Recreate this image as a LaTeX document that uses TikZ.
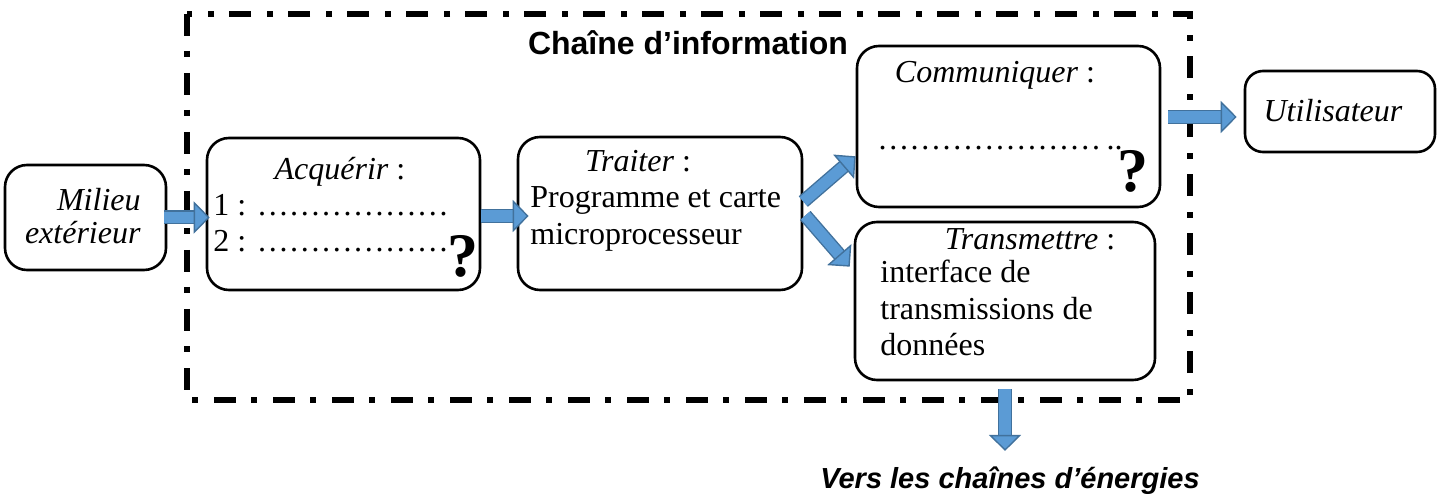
\documentclass[tikz,border=0pt]{standalone}
\usepackage{fontspec}
\setmainfont{Liberation Serif}
\setsansfont{Liberation Sans}
\usetikzlibrary{arrows.meta}
\definecolor{bleu}{HTML}{5B9BD5}
\definecolor{bleuF}{HTML}{41719C}
\begin{document}
\begin{tikzpicture}[x=0.5pt,y=-0.5pt,
	boite/.style={draw=black,line width=1.3pt,rounded corners=11pt,inner sep=0pt},
	txt/.style={font=\fontsize{16}{18}\selectfont,inner sep=0pt},
	qst/.style={font=\fontsize{31}{31}\selectfont\bfseries,inner sep=0pt},
	fleche/.style={draw=bleuF,line width=0.7pt,double=bleu,double distance=5.6pt,
		-{Triangle[width=16pt,length=8pt,line width=0.7pt,fill=bleu]}},
	cadre/.style={line width=2.7pt,dash pattern=on 11pt off 7.5pt on 3pt off 8pt}]
	\useasboundingbox (0,0) rectangle (1438,496);
	\draw[cadre] (187,14) rectangle (1190,400);
	\node[txt,font=\fontsize{16}{18}\selectfont\sffamily\bfseries,anchor=base] (titre) at (688,55) {Chaîne d’information};
	\node[boite,minimum width=80.5pt,minimum height=52.5pt] (milieu) at (85.5,217.5) {};
	\node[boite,minimum width=136.5pt,minimum height=76pt] (acq) at (343.5,214) {};
	\node[boite,minimum width=142pt,minimum height=76.5pt] (traiter) at (660,213.5) {};
	\node[boite,minimum width=151.5pt,minimum height=80.5pt] (comm) at (1008.5,126.5) {};
	\node[boite,minimum width=150pt,minimum height=79pt] (trans) at (1005,301) {};
	\node[boite,rounded corners=9pt,minimum width=95pt,minimum height=40.5pt] (util) at (1340,111.5) {};
	\node[txt,anchor=base east] (tmil1) at (141,211) {\textit{Milieu}};
	\node[txt,anchor=base east] (tmil2) at (141,244) {\textit{extérieur}};
	\node[txt,anchor=base] (tacq) at (340,180) {\textit{Acquérir} :};
	\node[txt,anchor=base west] (acq1) at (213,216) {1 : ………………};
	\node[txt,anchor=base west] (acq2) at (213,252) {2 : ………………};
	\node[qst,anchor=base] (qacq) at (463,277) {?};
	\node[txt,anchor=base] (ttrait) at (638,172) {\textit{Traiter} :};
	\node[txt,anchor=base west] (trait1) at (530,208) {Programme et carte};
	\node[txt,anchor=base west] (trait2) at (530,245) {microprocesseur};
	\node[txt,anchor=base] (tcomm) at (995,83) {\textit{Communiquer} :};
	\node[txt,anchor=base west] (comm1) at (877,150) {…………………\,..};
	\node[qst,anchor=base] (qcomm) at (1133,192) {?};
	\node[txt,anchor=base] (ttrans) at (1030,250) {\textit{Transmettre} :};
	\node[txt,anchor=base west] (trans1) at (880,283) {interface de};
	\node[txt,anchor=base west] (trans2) at (880,320) {transmissions de};
	\node[txt,anchor=base west] (trans3) at (880,355) {données};
	\node[txt,anchor=base] (tutil) at (1333,122) {\textit{Utilisateur}};
	\node[txt,font=\fontsize{14.5}{16}\selectfont\sffamily\bfseries\itshape,anchor=base] (vers) at (1010,488) {Vers les chaînes d’énergies};
	\coordinate (c1) at (1168,117);
	\draw[fleche] ([xshift=-1.5pt]milieu.east) -- ([xshift=2pt]milieu.east -| acq.west);
	\draw[fleche] ([yshift=-1pt]acq.east) -- ([xshift=6pt,yshift=-1pt]acq.east -| traiter.west);
	\draw[fleche] ([yshift=6pt]traiter.east) -- ([yshift=26pt]comm.south west);
	\draw[fleche] ([xshift=1pt,yshift=-1pt]traiter.east) -- ([xshift=-2pt,yshift=-23pt]trans.north west);
	\draw[fleche] (c1) -- ([xshift=-3.5pt]c1 -| util.west);
	\draw[fleche,shorten >=7.5pt] ([yshift=-4pt]trans.south) -- (vers.north -| trans.south);
\end{tikzpicture}
\end{document}
